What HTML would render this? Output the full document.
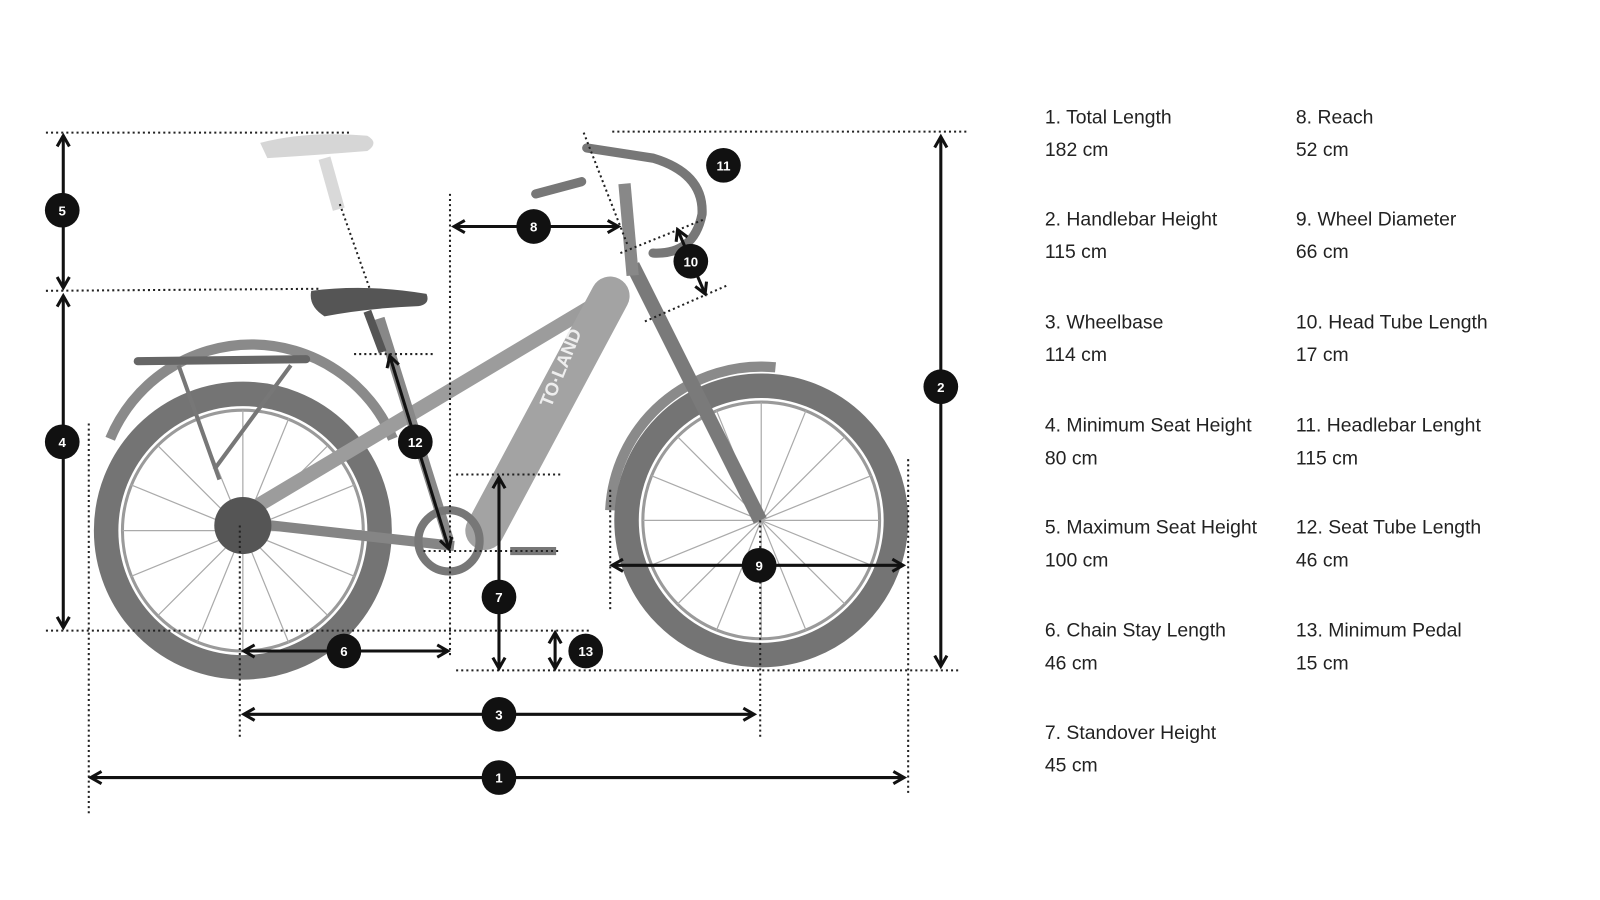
<!DOCTYPE html>
<html><head><meta charset="utf-8"><style>
html,body{margin:0;padding:0;background:#fff;}
svg{display:block}
text{font-family:"Liberation Sans",Arial,sans-serif}
</style></head><body>
<svg width="1600" height="900" viewBox="0 0 1568 882" xmlns="http://www.w3.org/2000/svg">
<defs>
<marker id="a" viewBox="0 0 10 10" refX="8" refY="5" markerWidth="5" markerHeight="5" orient="auto-start-reverse"><path d="M1,1 L8,5 L1,9" fill="none" stroke="#111" stroke-width="2"/></marker>
</defs>
<rect width="1568" height="882" fill="#fff"/>
<g>
 <path d="M255,140 Q300,128 360,133 Q372,140 360,148 Q310,152 262,155 Z" fill="#d6d6d6"/>
 <path d="M318,155 L332,205" stroke="#d9d9d9" stroke-width="12"/>
 <path d="M108,430 A150,150 0 0 1 385,430" fill="none" stroke="#8a8a8a" stroke-width="10"/>
 <path d="M598,500 A148,148 0 0 1 760,360" fill="none" stroke="#8a8a8a" stroke-width="10"/>
 <circle cx="238" cy="520" r="134" fill="none" stroke="#747474" stroke-width="24"/>
 <circle cx="238" cy="520" r="118" fill="none" stroke="#9a9a9a" stroke-width="3"/>
 <circle cx="746" cy="510" r="132" fill="none" stroke="#747474" stroke-width="24"/>
 <circle cx="746" cy="510" r="116" fill="none" stroke="#9a9a9a" stroke-width="3"/>
 <g stroke="#aaa" stroke-width="1.2">
  <path d="M238,402 L238,638 M120,520 L356,520 M155,437 L321,603 M155,603 L321,437 M193,410 L283,630 M193,630 L283,410 M128,475 L348,565 M128,565 L348,475"/>
  <path d="M746,394 L746,626 M630,510 L862,510 M664,428 L828,592 M664,592 L828,428 M702,402 L790,618 M702,618 L790,402 M638,466 L854,554 M638,554 L854,466"/>
 </g>
 <path d="M135,354 L300,352" stroke="#666" stroke-width="8" stroke-linecap="round"/>
 <path d="M175,358 L215,470 M285,358 L210,460" stroke="#777" stroke-width="4" fill="none"/>
 <path d="M580,300 L245,500" stroke="#9c9c9c" stroke-width="14" stroke-linecap="round"/>
 <path d="M598,290 L475,520" stroke="#a3a3a3" stroke-width="38" stroke-linecap="round"/>
 <path d="M372,312 L440,530" stroke="#888" stroke-width="10"/>
 <path d="M240,512 L445,535" stroke="#858585" stroke-width="10"/>
 <circle cx="440" cy="530" r="30" fill="none" stroke="#777" stroke-width="8"/>
 <circle cx="238" cy="515" r="28" fill="#555"/>
 <path d="M620,260 L745,510" stroke="#7a7a7a" stroke-width="14"/>
 <path d="M612,180 L620,270" stroke="#888" stroke-width="12"/>
 <path d="M525,190 L570,178 M575,145 L640,155 Q690,170 688,210 Q680,250 640,248" fill="none" stroke="#777" stroke-width="9" stroke-linecap="round"/>
 <path d="M305,285 Q360,278 418,288 Q422,298 410,300 Q360,302 318,310 Q302,300 305,285 Z" fill="#555"/>
 <path d="M360,305 L375,345" stroke="#555" stroke-width="8"/>
 <path d="M500,540 L545,540" stroke="#777" stroke-width="8"/>
 <text x="0" y="0" transform="translate(540,400) rotate(-68)" font-size="18" fill="#eee" font-weight="bold">TO·LAND</text>
</g>
<g stroke="#222" stroke-width="2" stroke-dasharray="2,3" fill="none">
 <path d="M45,130 L345,130 M600,129 L950,129 M45,285 L315,283 M45,618 L580,618 M447,657 L942,657 M347,347 L427,347 M447,465 L550,465 M415,540 L550,540"/>
 <path d="M87,415 L87,800 M235,515 L235,725 M441,190 L441,645 M745,510 L745,725 M890,450 L890,780 M598,480 L598,600"/>
 <path d="M333,200 L362,282 M572,130 L615,240 M608,248 L690,215 M632,315 L712,280"/>
</g>
<g stroke="#111" stroke-width="3" fill="none" marker-start="url(#a)" marker-end="url(#a)">
 <path d="M62,133 L62,282"/><path d="M62,290 L62,615"/><path d="M922,134 L922,653"/>
 <path d="M445,222 L606,222"/><path d="M382,349 L440,538"/><path d="M489,468 L489,655"/>
 <path d="M544,620 L544,655"/><path d="M239,638 L439,638"/><path d="M600,554 L885,554"/>
 <path d="M239,700 L739,700"/><path d="M89,762 L886,762"/><path d="M664,225 L691,288"/>
</g>
<g font-size="13" font-weight="bold" fill="#fff" text-anchor="middle">
 <g fill="#111"><circle cx="61" cy="206" r="17"/><circle cx="61" cy="433" r="17"/><circle cx="922" cy="379" r="17"/><circle cx="523" cy="222" r="17"/><circle cx="709" cy="162" r="17"/><circle cx="677" cy="256" r="17"/><circle cx="407" cy="433" r="17"/><circle cx="489" cy="585" r="17"/><circle cx="574" cy="638" r="17"/><circle cx="337" cy="638" r="17"/><circle cx="744" cy="554" r="17"/><circle cx="489" cy="700" r="17"/><circle cx="489" cy="762" r="17"/></g>
 <text x="61" y="211">5</text><text x="61" y="438">4</text><text x="922" y="384">2</text><text x="523" y="227">8</text><text x="709" y="167">11</text><text x="677" y="261">10</text><text x="407" y="438">12</text><text x="489" y="590">7</text><text x="574" y="643">13</text><text x="337" y="643">6</text><text x="744" y="559">9</text><text x="489" y="705">3</text><text x="489" y="767">1</text>
</g>
<g font-size="19" fill="#222">
 <text x="1024" y="121">1. Total Length</text><text x="1024" y="153">182 cm</text>
 <text x="1024" y="221">2. Handlebar Height</text><text x="1024" y="253">115 cm</text>
 <text x="1024" y="322">3. Wheelbase</text><text x="1024" y="354">114 cm</text>
 <text x="1024" y="423">4. Minimum Seat Height</text><text x="1024" y="455">80 cm</text>
 <text x="1024" y="523">5. Maximum Seat Height</text><text x="1024" y="555">100 cm</text>
 <text x="1024" y="624">6. Chain Stay Length</text><text x="1024" y="656">46 cm</text>
 <text x="1024" y="724">7. Standover Height</text><text x="1024" y="756">45 cm</text>
 <text x="1270" y="121">8. Reach</text><text x="1270" y="153">52 cm</text>
 <text x="1270" y="221">9. Wheel Diameter</text><text x="1270" y="253">66 cm</text>
 <text x="1270" y="322">10. Head Tube Length</text><text x="1270" y="354">17 cm</text>
 <text x="1270" y="423">11. Headlebar Lenght</text><text x="1270" y="455">115 cm</text>
 <text x="1270" y="523">12. Seat Tube Length</text><text x="1270" y="555">46 cm</text>
 <text x="1270" y="624">13. Minimum Pedal</text><text x="1270" y="656">15 cm</text>
</g>
</svg>
</body></html>
